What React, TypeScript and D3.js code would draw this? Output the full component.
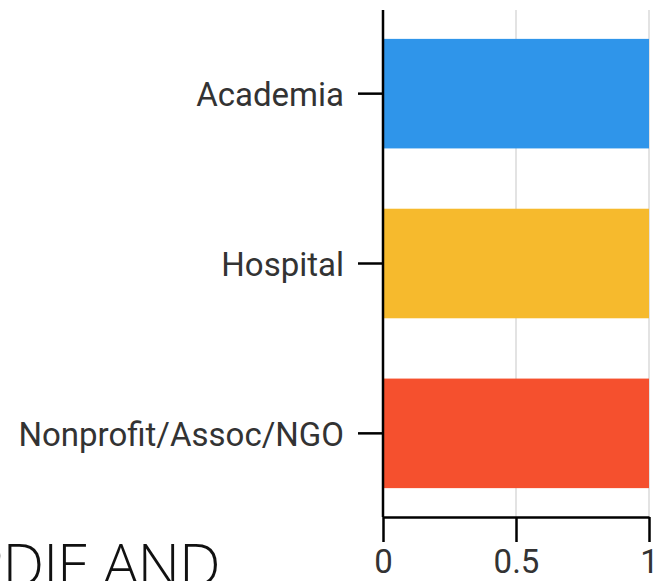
import React, { useEffect, useRef } from "react";
import * as d3 from "d3";

const categories = ["Academia", "Hospital", "Nonprofit/Assoc/NGO"];
const values = [1, 1, 1];
const colors = ["#2F95EA", "#F6BA2D", "#F5502E"];
const xTicks = [0, 0.5, 1];
const titleText = "PDIE AND";

export default function App() {
  const ref = useRef<SVGSVGElement>(null);
  useEffect(() => {
    const svg = d3.select(ref.current);
    svg.selectAll("*").remove();
    const left = 383, right = 649, top = 10, bottom = 517;
    const x = d3.scaleLinear().domain([0, 1]).range([left, right]);
    const y = d3.scaleBand<string>().domain(categories).range([top, bottom]).paddingInner(0.355).paddingOuter(0.17);

    const g = svg.append("g");
    g.selectAll("line.grid").data(xTicks.filter((t) => t > 0)).enter().append("line")
      .attr("x1", (d) => x(d)).attr("x2", (d) => x(d))
      .attr("y1", top).attr("y2", bottom)
      .attr("stroke", "#e3e3e3").attr("stroke-width", 2);

    g.selectAll("rect").data(categories).enter().append("rect")
      .attr("x", x(0)).attr("y", (d) => y(d)!)
      .attr("width", (_, i) => x(values[i]) - x(0))
      .attr("height", y.bandwidth())
      .attr("fill", (_, i) => colors[i]);

    const font = "Roboto, sans-serif";
    const xAxis = g.append("g").attr("transform", `translate(0,${bottom})`)
      .call(d3.axisBottom(x).tickValues(xTicks).tickFormat((d) => String(d)).tickSize(25).tickSizeOuter(0).tickPadding(8));
    const yAxis = g.append("g").attr("transform", `translate(${left},0)`)
      .call(d3.axisLeft(y).tickSize(25).tickSizeOuter(0).tickPadding(14));
    [xAxis, yAxis].forEach((a) => {
      a.selectAll("path").attr("stroke", "#000").attr("stroke-width", 2.5);
      a.selectAll("line").attr("stroke", "#000").attr("stroke-width", 2.5);
      a.selectAll("text").attr("font-family", font).attr("font-size", 33).attr("fill", "#333");
    });
    yAxis.selectAll("text").attr("dy", "0.37em");
    yAxis.selectAll("path").attr("d", `M0,${top}V${bottom}`);

    svg.append("text").attr("x", -31).attr("y", 586)
      .attr("font-family", "'Open Sans', sans-serif").attr("font-weight", 300)
      .attr("font-size", 59).attr("letter-spacing", -1).attr("fill", "#111").text(titleText);
  }, []);
  return (
    <svg ref={ref} width={668} height={581}
      style={{ position: "absolute", left: 0, top: 0, display: "block", background: "#fff" }} />
  );
}
